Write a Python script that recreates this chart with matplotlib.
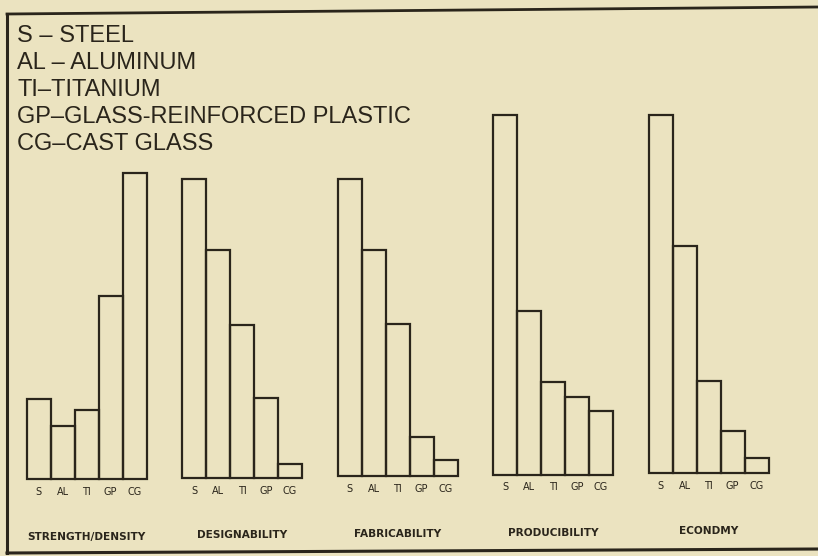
import matplotlib.pyplot as plt
import numpy as np

# materials and criteria
materials = ["S", "AL", "TI", "GP", "CG"]
legend_lines = [
    "S – STEEL",
    "AL – ALUMINUM",
    "TI–TITANIUM",
    "GP–GLASS-REINFORCED PLASTIC",
    "CG–CAST GLASS",
]
criteria = ["STRENGTH/DENSITY", "DESIGNABILITY", "FABRICABILITY", "PRODUCIBILITY", "ECONDMY"]

# bar heights (relative units)
strength_density = [80, 53, 69, 183, 306]
designability = [299, 228, 153, 80, 14]
fabricability = [297, 226, 152, 39, 16]
producibility = [360, 164, 93, 78, 64]
economy = [358, 227, 92, 42, 15]
values = [strength_density, designability, fabricability, producibility, economy]

bg = "#ebe3c0"
ink = "#2a251b"

fig = plt.figure(figsize=(8.18, 5.56), dpi=100, facecolor=bg)
ax = fig.add_axes([0, 0, 1, 1])
ax.set_facecolor(bg)
ax.set_xlim(0, 818)
ax.set_ylim(556, 0)
ax.axis("off")

# frame (scan is cut off on the right)
ax.plot([7, 7], [14, 553], color=ink, lw=2.2)
ax.plot([7, 818], [14, 7], color=ink, lw=2.0)
ax.plot([7, 818], [553, 549], color=ink, lw=2.2)

# legend text
for i, line in enumerate(legend_lines):
    ax.text(17, 36 + i * 27, line, fontsize=17, family="Liberation Sans",
            color=ink, va="center", ha="left")

bar_w = 24
group_start = 38.5
group_step = 155.5
for g, vals in enumerate(values):
    base = 479 - 1.5 * g
    xs = group_start + g * group_step + np.arange(len(materials)) * bar_w
    ax.bar(xs, -np.array(vals), bottom=base, width=bar_w, facecolor="none",
           edgecolor=ink, linewidth=1.6)
    for x, m in zip(xs, materials):
        ax.text(x, base + 13, m, fontsize=7, color=ink, ha="center", va="center",
                family="DejaVu Sans")
    ax.text(xs[2], base + 58, criteria[g], fontsize=7.6, fontweight="bold",
            color=ink, ha="center", va="center", family="DejaVu Sans")

fig.savefig("out.png", dpi=100, facecolor=bg)
